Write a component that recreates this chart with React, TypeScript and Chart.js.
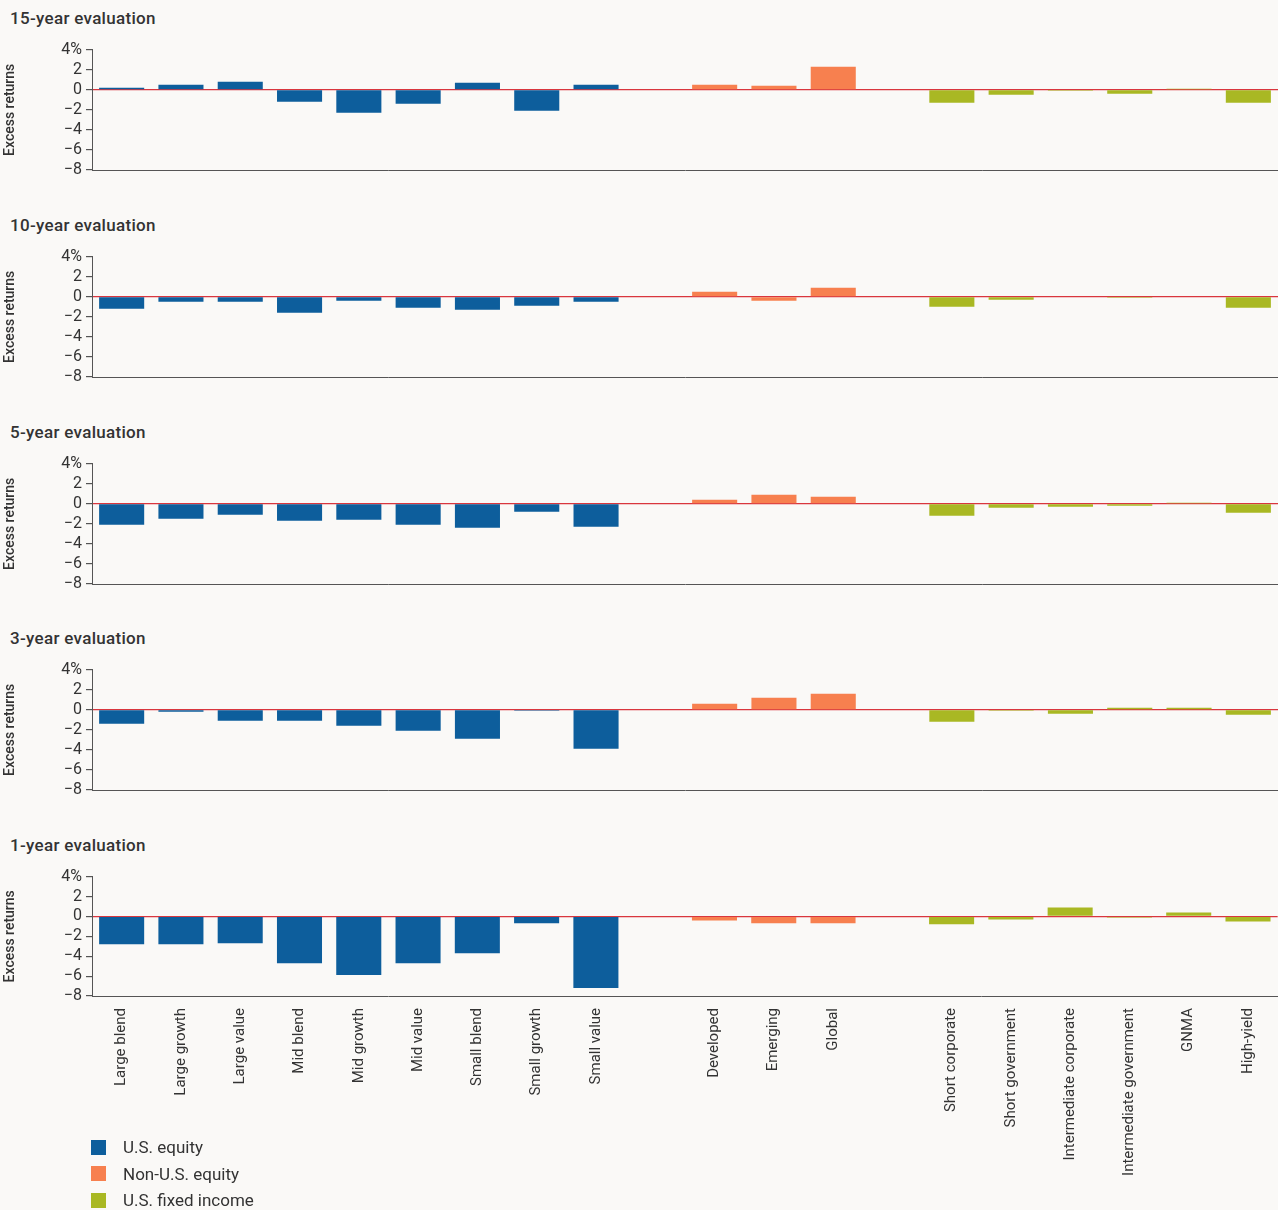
import React, { useEffect, useRef } from 'react';
import { Chart, registerables } from 'chart.js';

Chart.register(...registerables);

// Categories, with '' as spacer slots between the three groups
const categories = [
  'Large blend', 'Large growth', 'Large value', 'Mid blend', 'Mid growth', 'Mid value',
  'Small blend', 'Small growth', 'Small value', '',
  'Developed', 'Emerging', 'Global', '',
  'Short corporate', 'Short government', 'Intermediate corporate', 'Intermediate government', 'GNMA', 'High-yield',
];
const groupOf = ['us', 'us', 'us', 'us', 'us', 'us', 'us', 'us', 'us', '', 'intl', 'intl', 'intl', '', 'fi', 'fi', 'fi', 'fi', 'fi', 'fi'];

const yTicks = [4, 2, 0, -2, -4, -6, -8];

const eval15 = [0.2, 0.5, 0.8, -1.2, -2.3, -1.4, 0.7, -2.1, 0.5, null, 0.5, 0.4, 2.3, null, -1.3, -0.5, -0.1, -0.4, 0.1, -1.3];
const eval10 = [-1.2, -0.5, -0.5, -1.6, -0.4, -1.1, -1.3, -0.9, -0.5, null, 0.5, -0.4, 0.9, null, -1.0, -0.3, 0.05, -0.1, 0.0, -1.1];
const eval5 = [-2.1, -1.5, -1.1, -1.7, -1.6, -2.1, -2.4, -0.8, -2.3, null, 0.4, 0.9, 0.7, null, -1.2, -0.4, -0.3, -0.2, 0.1, -0.9];
const eval3 = [-1.4, -0.2, -1.1, -1.1, -1.6, -2.1, -2.9, -0.1, -3.9, null, 0.6, 1.2, 1.6, null, -1.2, -0.1, -0.4, 0.2, 0.2, -0.5];
const eval1 = [-2.8, -2.8, -2.7, -4.7, -5.9, -4.7, -3.7, -0.7, -7.2, null, -0.4, -0.7, -0.7, null, -0.8, -0.3, 0.9, -0.1, 0.4, -0.5];

const panels = [
  { title: '15-year evaluation', values: eval15 },
  { title: '10-year evaluation', values: eval10 },
  { title: '5-year evaluation', values: eval5 },
  { title: '3-year evaluation', values: eval3 },
  { title: '1-year evaluation', values: eval1 },
];

const COLORS: Record<string, string> = { us: '#0d5e9c', intl: '#f7804f', fi: '#a9b823', '': 'transparent' };
const BG = '#faf9f7';
const FONT = 'Roboto, "Open Sans", sans-serif';

const Panel: React.FC<{ values: (number | null)[]; showLabels: boolean; height: number }> = ({ values, showLabels, height }) => {
  const ref = useRef<HTMLCanvasElement>(null);
  useEffect(() => {
    if (!ref.current) return;
    const chart = new Chart(ref.current, {
      type: 'bar',
      data: {
        labels: categories,
        datasets: [{
          data: values as any,
          backgroundColor: groupOf.map(g => COLORS[g]),
          barPercentage: 0.76,
          categoryPercentage: 1,
        }],
      },
      options: {
        animation: false,
        responsive: false,
        maintainAspectRatio: false,
        layout: { padding: { top: 10, bottom: showLabels ? 0 : 16, right: 0, left: 2 } },
        plugins: { legend: { display: false }, tooltip: { enabled: false } },
        scales: {
          y: {
            min: -8,
            max: 4,
            afterFit: (s: any) => { s.width = 90; },
            afterBuildTicks: (s: any) => { s.ticks = yTicks.map(v => ({ value: v })); },
            ticks: {
              autoSkip: false,
              color: '#333',
              font: { family: FONT, size: 16 },
              padding: 4,
              callback: (v: any) => (v === 4 ? '4%' : String(v).replace('-', '\u2212')),
            },
            grid: {
              color: (c: any) => (c.tick && c.tick.value === 0 ? '#d9363e' : 'transparent'),
              tickColor: '#555',
              tickLength: 6,
              lineWidth: 1.2,
            },
            border: { display: true, color: '#555' },
            title: {
              display: true,
              text: 'Excess returns',
              color: '#333',
              font: { family: FONT, size: 14, weight: 500 as any },
              padding: { top: 0, bottom: 2 },
            },
          },
          x: {
            afterFit: (s: any) => { if (showLabels) s.height = 213; },
            grid: { display: false, drawTicks: false },
            border: { display: true, color: '#555' },
            ticks: {
              display: showLabels,
              autoSkip: false,
              maxRotation: 90,
              minRotation: 90,
              padding: 12,
              color: '#333',
              font: { family: FONT, size: 15 },
            },
          },
        },
      },
    });
    return () => chart.destroy();
  }, [values, showLabels]);
  return <canvas ref={ref} width={1278} height={height} style={{ display: 'block' }} />;
};

const legendItems = [
  { label: 'U.S. equity', color: COLORS.us },
  { label: 'Non-U.S. equity', color: COLORS.intl },
  { label: 'U.S. fixed income', color: COLORS.fi },
];

export default function App() {
  useEffect(() => {
    document.body.style.margin = '0';
    document.body.style.background = BG;
  }, []);
  return (
    <div style={{ position: 'relative', width: 1278, height: 1210, background: BG, fontFamily: FONT, overflow: 'hidden' }}>
      {panels.map((p, i) => {
        const last = i === panels.length - 1;
        const top = 36 + i * 206.8;
        return (
          <React.Fragment key={p.title}>
            <div style={{ position: 'absolute', left: 10, top: top - 28, fontSize: 17, fontWeight: 500, letterSpacing: 0.3, color: '#333' }}>{p.title}</div>
            <div style={{ position: 'absolute', left: 0, top }}>
              <Panel values={p.values} showLabels={last} height={last ? 1210 - top : 150} />
            </div>
          </React.Fragment>
        );
      })}
      <div style={{ position: 'absolute', left: 91, top: 1134 }}>
        {legendItems.map(it => (
          <div key={it.label} style={{ display: 'flex', alignItems: 'center', height: 26.5 }}>
            <span style={{ width: 15, height: 15, background: it.color, display: 'inline-block', marginRight: 17 }} />
            <span style={{ fontSize: 17, color: '#333' }}>{it.label}</span>
          </div>
        ))}
      </div>
    </div>
  );
}
